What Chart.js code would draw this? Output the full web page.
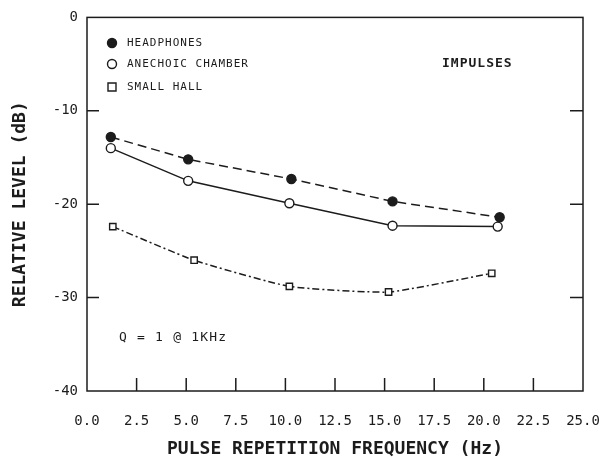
<!DOCTYPE html>
<html>
<head>
<meta charset="utf-8">
<script src="https://cdn.jsdelivr.net/npm/chart.js@4"></script>
<style>
  body { margin: 0; background: #fff; }
</style>
</head>
<body>
<canvas id="chart" width="600" height="460"></canvas>
<script>
// values (x in Hz, y in dB)
var freqHeadphones = [1.2, 5.1, 10.3, 15.4, 20.8];
var levelHeadphones = [-12.8, -15.2, -17.3, -19.7, -21.4];
var freqAnechoic = [1.2, 5.1, 10.2, 15.4, 20.7];
var levelAnechoic = [-14.0, -17.5, -19.9, -22.3, -22.4];
var freqHall = [1.3, 5.4, 10.2, 15.2, 20.4];
var levelHall = [-22.4, -26.0, -28.8, -29.4, -27.4];

var seriesNames = ['HEADPHONES', 'ANECHOIC CHAMBER', 'SMALL HALL'];
var xTicks = [0, 2.5, 5, 7.5, 10, 12.5, 15, 17.5, 20, 22.5, 25];
var yTicks = [0, -10, -20, -30, -40];

var ink = '#1c1c1c';
var mono = '"DejaVu Sans Mono", monospace';

function pairs(xs, ys) {
  return xs.map(function(x, i) { return { x: x, y: ys[i] }; });
}

// frame, inward tick marks, legend and notes
var paperMarks = {
  id: 'paperMarks',
  afterDraw: function(chart) {
    var ctx = chart.ctx, a = chart.chartArea;
    var xs = chart.scales.x, ys = chart.scales.y;
    ctx.save();
    ctx.strokeStyle = ink;
    ctx.lineWidth = 1.5;
    ctx.strokeRect(a.left, a.top, a.right - a.left, a.bottom - a.top);

    ctx.beginPath();
    xTicks.slice(1, -1).forEach(function(v) {
      var px = xs.getPixelForValue(v);
      ctx.moveTo(px, a.bottom);
      ctx.lineTo(px, a.bottom - 13);
    });
    yTicks.slice(1, -1).forEach(function(v) {
      var py = ys.getPixelForValue(v);
      ctx.moveTo(a.left, py);
      ctx.lineTo(a.left + 12, py);
      ctx.moveTo(a.right, py);
      ctx.lineTo(a.right - 13, py);
    });
    ctx.stroke();

    // legend
    ctx.fillStyle = ink;
    ctx.font = '11px ' + mono;
    ctx.letterSpacing = '1px';
    ctx.textBaseline = 'middle';
    ctx.lineWidth = 1.4;
    var rows = [43, 64, 87];
    chart.data.datasets.forEach(function(ds, i) {
      var y = rows[i], x = 112;
      ctx.beginPath();
      if (ds.pointStyle === 'rect') {
        ctx.rect(x - 4, y - 4, 8, 8);
      } else {
        ctx.arc(x, y, 4.5, 0, Math.PI * 2);
      }
      ctx.fillStyle = ds.pointBackgroundColor;
      ctx.fill();
      ctx.stroke();
      ctx.fillStyle = ink;
      ctx.fillText(ds.label, 127, y);
    });

    ctx.font = 'bold 13px ' + mono;
    ctx.letterSpacing = '1px';
    ctx.fillText('IMPULSES', 442, 64);

    ctx.font = '13px ' + mono;
    ctx.letterSpacing = '1.2px';
    ctx.fillText('Q = 1 @ 1KHz', 119, 338);
    ctx.restore();
  }
};

var ctx = document.getElementById('chart').getContext('2d');

var config = {
  type: 'scatter',
  data: {
    datasets: [{
      label: seriesNames[0],
      data: pairs(freqHeadphones, levelHeadphones),
      showLine: true,
      borderColor: ink,
      borderWidth: 1.5,
      borderDash: [9, 5],
      pointStyle: 'circle',
      pointRadius: 4.5,
      pointBackgroundColor: ink,
      pointBorderColor: ink,
      pointBorderWidth: 1.4
    }, {
      label: seriesNames[1],
      data: pairs(freqAnechoic, levelAnechoic),
      showLine: true,
      borderColor: ink,
      borderWidth: 1.5,
      pointStyle: 'circle',
      pointRadius: 4.5,
      pointBackgroundColor: '#fff',
      pointBorderColor: ink,
      pointBorderWidth: 1.4
    }, {
      label: seriesNames[2],
      data: pairs(freqHall, levelHall),
      showLine: true,
      tension: 0.15,
      borderColor: ink,
      borderWidth: 1.5,
      borderDash: [7, 3, 2, 3],
      pointStyle: 'rect',
      pointRadius: 4.5,
      pointBackgroundColor: '#fff',
      pointBorderColor: ink,
      pointBorderWidth: 1.4
    }]
  },
  options: {
    responsive: false,
    animation: false,
    layout: { padding: { top: 16, right: 0, left: 0, bottom: 0 } },
    plugins: {
      legend: { display: false },
      tooltip: { enabled: false }
    },
    scales: {
      x: {
        type: 'linear',
        min: 0,
        max: 25,
        afterBuildTicks: function(scale) {
          scale.ticks = xTicks.map(function(v) { return { value: v }; });
        },
        afterFit: function(scale) {
          scale.height = 69;
          scale.paddingRight = 17;
        },
        grid: { display: false, drawTicks: false },
        border: { display: false },
        ticks: {
          color: ink,
          padding: 22,
          maxRotation: 0,
          autoSkip: false,
          font: { family: mono, size: 14 },
          callback: function(v) { return Number(v).toFixed(1); }
        },
        title: {
          display: true,
          text: 'PULSE REPETITION FREQUENCY (Hz)',
          color: ink,
          font: { family: mono, size: 18, weight: 'bold' },
          padding: { top: 0, bottom: 0 }
        }
      },
      y: {
        type: 'linear',
        min: -40,
        max: 0,
        afterBuildTicks: function(scale) {
          scale.ticks = yTicks.map(function(v) { return { value: v }; });
        },
        afterFit: function(scale) { scale.width = 87; },
        grid: { display: false, drawTicks: false },
        border: { display: false },
        ticks: {
          color: ink,
          padding: 9,
          autoSkip: false,
          font: { family: mono, size: 14 }
        },
        title: {
          display: true,
          text: 'RELATIVE LEVEL (dB)',
          color: ink,
          font: { family: mono, size: 18, weight: 'bold' },
          padding: { top: 10, bottom: 0 }
        }
      }
    }
  },
  plugins: [paperMarks]
};

var chart = new Chart(ctx, config);
</script>
</body>
</html>
